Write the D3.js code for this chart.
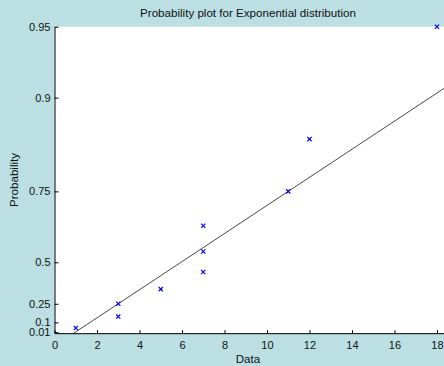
<!DOCTYPE html>
<html>
<head>
<meta charset="utf-8">
<script src="https://cdn.jsdelivr.net/npm/d3@7"></script>
<style>
  body { margin: 0; background: #bbdfe3; }
  svg { display: block; font-family: "Liberation Sans", Arial, sans-serif; }
</style>
</head>
<body>
<svg id="chart" width="444" height="366"></svg>
<script>
// sorted sample values
const sample = [1, 3, 3, 5, 7, 7, 7, 11, 12, 18];
const probTicks = [0.01, 0.1, 0.25, 0.5, 0.75, 0.9, 0.95];
const xTicks = [0, 2, 4, 6, 8, 10, 12, 14, 16, 18];
// reference line goes through these quartiles
const refProbs = [0.25, 0.75];

const plotL = 54.5, plotR = 444, plotT = 26.7, plotB = 333.2;

const svg = d3.select('#chart');

// exponential probability transform
const tr = p => -Math.log(1 - p);

const x = d3.scaleLinear().domain([0, 18.33]).range([plotL, plotR]);
const y = d3.scaleLinear().domain([0, tr(0.95)]).range([plotB, plotT]);

svg.append('rect')
    .attr('x', plotL).attr('y', plotT)
    .attr('width', plotR - plotL).attr('height', plotB - plotT)
    .attr('fill', '#fff');

svg.append('defs').append('clipPath').attr('id', 'clip')
    .append('rect')
    .attr('x', plotL).attr('y', plotT)
    .attr('width', plotR - plotL).attr('height', plotB - plotT);

// matlab style percentile
function prctile(arr, p) {
    const n = arr.length;
    const pos = p * n + 0.5;
    if (pos <= 1) return arr[0];
    if (pos >= n) return arr[n - 1];
    const i = Math.floor(pos);
    return arr[i - 1] + (pos - i) * (arr[i] - arr[i - 1]);
}

const q1 = prctile(sample, refProbs[0]);
const q3 = prctile(sample, refProbs[1]);
const slope = (tr(refProbs[1]) - tr(refProbs[0])) / (q3 - q1);
const lineY = v => tr(refProbs[0]) + slope * (v - q1);

svg.append('line')
    .attr('clip-path', 'url(#clip)')
    .attr('x1', x(0)).attr('y1', y(lineY(0)))
    .attr('x2', x(18.33)).attr('y2', y(lineY(18.33)))
    .attr('stroke', '#333')
    .attr('stroke-width', 0.9);

// axes
const yAxis = d3.axisLeft(y)
    .tickValues(probTicks.map(tr))
    .tickFormat((d, i) => String(probTicks[i]))
    .tickSizeInner(-4)
    .tickSizeOuter(0)
    .tickPadding(4);

const xAxis = d3.axisBottom(x)
    .tickValues(xTicks)
    .tickFormat(d3.format('d'))
    .tickSizeInner(-3)
    .tickSizeOuter(0)
    .tickPadding(8);

const gy = svg.append('g').attr('transform', `translate(${plotL},0)`).call(yAxis);
const gx = svg.append('g').attr('transform', `translate(0,${plotB})`).call(xAxis);

[gx, gy].forEach(g => {
    g.selectAll('text').attr('font-size', 11).attr('fill', '#111')
        .attr('font-family', '"Liberation Sans", Arial, sans-serif');
    g.selectAll('line').attr('stroke', '#000');
    g.select('.domain').attr('stroke', '#000');
});

// markers
const n = sample.length;
const pts = sample.map((v, i) => ({ v: v, p: (i + 0.5) / n }));
const s = 2.1;
svg.append('g').selectAll('path')
    .data(pts)
    .enter().append('path')
    .attr('d', d => {
        const cx = x(d.v), cy = y(tr(d.p));
        return `M${cx - s},${cy - s}L${cx + s},${cy + s}M${cx - s},${cy + s}L${cx + s},${cy - s}`;
    })
    .attr('stroke', '#0000ff')
    .attr('stroke-width', 1.2)
    .attr('fill', 'none');

// labels
svg.append('text')
    .attr('x', 248).attr('y', 17)
    .attr('text-anchor', 'middle')
    .attr('font-size', 11.6)
    .attr('fill', '#111')
    .text('Probability plot for Exponential distribution');

svg.append('text')
    .attr('x', 248).attr('y', 363)
    .attr('text-anchor', 'middle')
    .attr('font-size', 11.6)
    .attr('fill', '#111')
    .text('Data');

svg.append('text')
    .attr('transform', `translate(18,${(plotT + plotB) / 2}) rotate(-90)`)
    .attr('text-anchor', 'middle')
    .attr('font-size', 11.6)
    .attr('fill', '#111')
    .text('Probability');
</script>
</body>
</html>
